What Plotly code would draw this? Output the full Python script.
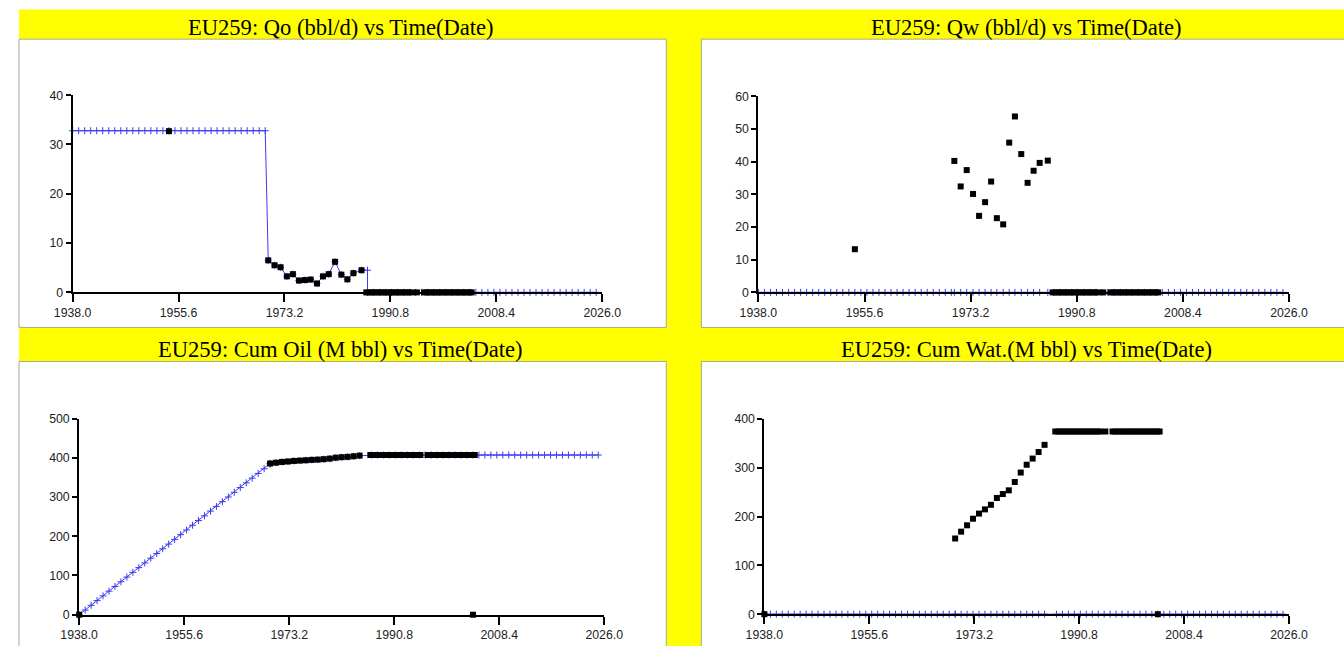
import plotly.graph_objects as go

W, H = 1344, 646
FW, FH = 1384, 666
BLUE = "#3b3bf0"

X_TICKS = [1938.0, 1955.6, 1973.2, 1990.8, 2008.4, 2026.0]
X_TICK_TEXT = ["1938.0", "1955.6", "1973.2", "1990.8", "2008.4", "2026.0"]

TITLES = [
    "EU259: Qo (bbl/d) vs Time(Date)",
    "EU259: Qw (bbl/d) vs Time(Date)",
    "EU259: Cum Oil (M bbl) vs Time(Date)",
    "EU259: Cum Wat.(M bbl) vs Time(Date)",
]

# yearly allocated series (blue line with + marks)
YEARS_EARLY = [1938, 1939, 1940, 1941, 1942, 1943, 1944, 1945, 1946, 1947, 1948,
               1949, 1950, 1951, 1952, 1953, 1954, 1955, 1956, 1957, 1958, 1959,
               1960, 1961, 1962, 1963, 1964, 1965, 1966, 1967, 1968, 1969, 1970]
YEARS_LATE = [1987, 1988, 1989, 1990, 1991, 1992, 1993, 1994, 1995, 1996, 1997,
              1998, 1999, 2000, 2001, 2002, 2003, 2004, 2005, 2006, 2007, 2008,
              2009, 2010, 2011, 2012, 2013, 2014, 2015, 2016, 2017, 2018, 2019,
              2020, 2021, 2022, 2023, 2024, 2025]
QO_EARLY = [32.8, 32.8, 32.8, 32.8, 32.8, 32.8, 32.8, 32.8, 32.8, 32.8, 32.8,
            32.8, 32.8, 32.8, 32.8, 32.8, 32.8, 32.8, 32.8, 32.8, 32.8, 32.8,
            32.8, 32.8, 32.8, 32.8, 32.8, 32.8, 32.8, 32.8, 32.8, 32.8, 32.8]
CUM_OIL_EARLY = [0, 12, 24, 36, 48, 60, 72, 84, 96, 108, 120, 132, 144, 156, 168,
                 180, 192, 204, 216, 228, 240, 252, 264, 276, 288, 300, 312, 324,
                 336, 348, 360, 372, 384]

# measured tests (black squares)
TEST_YEARS = [1970.5, 1971.55, 1972.55, 1973.6, 1974.6, 1975.6, 1976.6, 1977.55,
              1978.6, 1979.6, 1980.55, 1981.6, 1982.65, 1983.65, 1984.65, 1986.0]
QO_TESTS = [6.5, 5.5, 5.1, 3.25, 3.7, 2.4, 2.5, 2.6, 1.8, 3.25, 3.7, 6.2, 3.6,
            2.65, 3.9, 4.5]
QW_TESTS = [40.2, 32.4, 37.4, 30.1, 23.4, 27.6, 33.9, 22.7, 20.8, 45.8, 53.8,
            42.3, 33.5, 37.2, 39.6, 40.3]
EARLY_TEST_YEAR = 1954.0
QO_EARLY_TEST = 32.7
QW_EARLY_TEST = 13.2

CUM_YEARS = [1970.0, 1971.0, 1972.0, 1973.0, 1974.0, 1975.0, 1976.0, 1977.0,
             1978.0, 1979.0, 1980.0, 1981.0, 1982.0, 1983.0, 1984.0, 1985.0]
CUM_OIL = [385.4, 387.4, 389.3, 390.5, 391.9, 392.7, 393.6, 394.6, 395.2,
           396.4, 397.8, 400.1, 401.4, 402.3, 403.8, 405.4]
CUM_WAT = [155, 169, 182, 195.5, 206, 214.6, 224, 238, 246, 253.6, 270.7, 290,
           306, 318.6, 332, 346.7]
CUM_OIL_FINAL = 407
CUM_WAT_FINAL = 374

# shut-in period reports
SHUTIN_YEARS = [1986.8, 1987.3, 1987.8, 1988.3, 1988.8, 1989.3, 1989.8, 1990.3,
                1990.8, 1991.3, 1991.8, 1992.3, 1992.8, 1993.3, 1993.8, 1994.3,
                1995.2, 1996.4, 1996.9, 1997.4, 1997.9, 1998.4, 1998.9, 1999.4,
                1999.9, 2000.4, 2000.9, 2001.4, 2001.9, 2002.4, 2002.9, 2003.4,
                2003.9, 2004.3]
CUM_ZERO_YEARS = [1938.0, 2004.0]

# the snapshot comes out shrunk about its centre; place things so they land
# on the target pixel positions after that
SX, OX = 0.9715, 18.4
SY, OY = 0.978, 6.9
FS = 1 / 0.975


def px(x):
    return min(max((x - OX) / SX / FW, 0), 1)


def py(y):
    return min(max(1 - (y - OY) / SY / FH, 0), 1)


# target pixel boxes: axis area (x0, x1, ytop, ybottom) and white frame
PANELS = [
    dict(ax=(72, 601, 95, 292), frame=(15, 665, 39, 327), ymax=40, dtick=10),
    dict(ax=(757, 1287, 96, 292), frame=(700, 1352, 39, 327), ymax=60, dtick=10),
    dict(ax=(78.5, 603, 418, 614), frame=(15, 665, 361, 670), ymax=500, dtick=100),
    dict(ax=(763, 1287, 418.3, 613.5), frame=(700, 1352, 361, 670), ymax=400, dtick=100),
]
TITLE_Y = [27, 27, 349, 349]

fig = go.Figure()


def blue_line(x, y, n):
    fig.add_trace(go.Scatter(
        x=x, y=y, mode="lines+markers", xaxis="x" + n, yaxis="y" + n,
        line=dict(color=BLUE, width=1),
        marker=dict(symbol="cross-thin", size=5, line=dict(color=BLUE, width=1)),
        cliponaxis=False, showlegend=False, hoverinfo="skip",
    ))


def squares(x, y, n):
    fig.add_trace(go.Scatter(
        x=x, y=y, mode="markers", xaxis="x" + n, yaxis="y" + n,
        marker=dict(symbol="square", size=6, color="black", line=dict(width=0)),
        cliponaxis=False, showlegend=False,
    ))


zeros_late = [0 for _ in YEARS_LATE]
zeros_early = [0 for _ in YEARS_EARLY]
zeros_shut = [0 for _ in SHUTIN_YEARS]

# Qo
blue_line(YEARS_EARLY + TEST_YEARS + [1987.0, 1987.0] + YEARS_LATE[1:],
          QO_EARLY + QO_TESTS + [QO_TESTS[-1], 0] + zeros_late[1:], "")
squares([EARLY_TEST_YEAR] + TEST_YEARS + SHUTIN_YEARS,
        [QO_EARLY_TEST] + QO_TESTS + zeros_shut, "")

# Qw
blue_line(YEARS_EARLY + TEST_YEARS + YEARS_LATE,
          zeros_early + [0 for _ in TEST_YEARS] + zeros_late, "2")
squares([EARLY_TEST_YEAR] + TEST_YEARS + SHUTIN_YEARS,
        [QW_EARLY_TEST] + QW_TESTS + zeros_shut, "2")

# Cum oil
blue_line(YEARS_EARLY + CUM_YEARS + YEARS_LATE,
          CUM_OIL_EARLY + CUM_OIL + [CUM_OIL_FINAL for _ in YEARS_LATE], "3")
squares(CUM_YEARS + SHUTIN_YEARS + CUM_ZERO_YEARS,
        CUM_OIL + [CUM_OIL_FINAL for _ in SHUTIN_YEARS] + [0, 0], "3")

# Cum water
blue_line(YEARS_EARLY + CUM_YEARS + YEARS_LATE,
          zeros_early + [0 for _ in CUM_YEARS] + zeros_late, "4")
squares(CUM_YEARS + SHUTIN_YEARS + CUM_ZERO_YEARS,
        CUM_WAT + [CUM_WAT_FINAL for _ in SHUTIN_YEARS] + [0, 0], "4")

shapes = [dict(type="rect", xref="paper", yref="paper", layer="below",
               x0=px(5), x1=1, y0=0, y1=py(9.5),
               fillcolor="#ffff00", line=dict(width=0))]
annotations = []
layout = {}
tick_font = dict(family="Arial, Liberation Sans, sans-serif", size=12 * FS,
                 color="#222")

for i, p in enumerate(PANELS):
    n = "" if i == 0 else str(i + 1)
    x0, x1, yt, yb = p["ax"]
    fx0, fx1, fyt, fyb = p["frame"]
    shapes.append(dict(type="rect", xref="paper", yref="paper", layer="below",
                       x0=px(fx0), x1=px(fx1), y0=py(fyb), y1=py(fyt),
                       fillcolor="white", line=dict(width=0)))
    # frame border only on the edges that are inside the picture
    edges = ["M %f,%f L %f,%f L %f,%f" % (px(fx0), py(fyb), px(fx0), py(fyt),
                                          px(fx1), py(fyt))]
    if fx1 < W:
        edges.append("M %f,%f L %f,%f" % (px(fx1), py(fyt), px(fx1), py(fyb)))
    if fyb < H:
        edges.append("M %f,%f L %f,%f" % (px(fx0), py(fyb), px(fx1), py(fyb)))
    shapes.append(dict(type="path", path=" ".join(edges), xref="paper",
                       yref="paper", layer="below",
                       line=dict(color="#a8a890", width=1)))
    annotations.append(dict(text=TITLES[i], xref="paper", yref="paper",
                            x=px((fx0 + min(fx1, 1350)) / 2), y=py(TITLE_Y[i]),
                            xanchor="center", yanchor="middle", showarrow=False,
                            font=dict(family="Liberation Serif, Times New Roman, serif",
                                      size=22 * FS, color="black")))
    common_x = dict(domain=[px(x0), px(x1)], range=[1938, 2026], tickmode="array",
                    tickvals=X_TICKS, showgrid=False, zeroline=False,
                    tickwidth=2, tickcolor="black")
    common_y = dict(domain=[py(yb), py(yt)], range=[0, p["ymax"]], tick0=0,
                    dtick=p["dtick"], showgrid=False, zeroline=False,
                    tickwidth=2, tickcolor="black")
    layout["xaxis" + n] = dict(common_x, anchor="y" + n, ticktext=X_TICK_TEXT,
                               ticks="outside", ticklen=8, showline=True,
                               linecolor="black", linewidth=2, tickfont=tick_font)
    layout["yaxis" + n] = dict(common_y, anchor="x" + n, ticks="outside", ticklen=5,
                               showline=True, linecolor="black", linewidth=2,
                               tickfont=tick_font)
    # second set of ticks drawn inward so they cross the axis line
    k = str(i + 5)
    layout["xaxis" + k] = dict(common_x, anchor="y" + n, overlaying="x" + n,
                               ticks="inside", ticklen=4, showticklabels=False,
                               showline=False)
    layout["yaxis" + k] = dict(common_y, anchor="x" + n, overlaying="y" + n,
                               ticks="inside", ticklen=5, showticklabels=False,
                               showline=False)

fig.update_layout(
    width=FW, height=FH, margin=dict(l=0, r=0, t=0, b=0),
    paper_bgcolor="white", plot_bgcolor="rgba(0,0,0,0)",
    shapes=shapes, annotations=annotations, showlegend=False,
    **layout,
)
# page margins would push the figure past the window
fig.write_html("out.html", config={"displayModeBar": False},
               post_script="document.body.style.margin='0';"
                           "document.body.style.overflow='hidden';")
